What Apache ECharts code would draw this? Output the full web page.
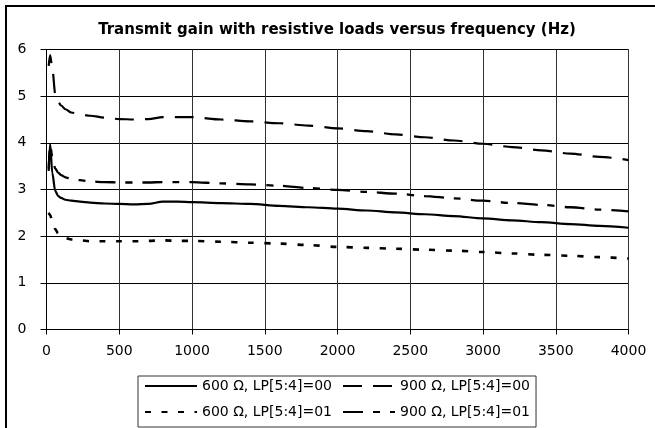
<!DOCTYPE html>
<html>
<head>
<meta charset="utf-8">
<script src="https://cdn.jsdelivr.net/npm/echarts@6/dist/echarts.min.js"></script>
<style>html,body{margin:0;padding:0;background:#fff}#chart{width:655px;height:428px}</style>
</head>
<body>
<div id="chart"></div>
<script>
const titleText = 'Transmit gain with resistive loads versus frequency (Hz)';
const seriesNames = ['600 Ω, LP[5:4]=00', '900 Ω, LP[5:4]=00', '600 Ω, LP[5:4]=01', '900 Ω, LP[5:4]=01'];
const frequencies = [15, 25, 40, 60, 80, 100, 130, 170, 230, 300, 400, 500, 600, 700, 800, 900, 1000, 1200, 1400, 1600, 1800, 2000, 2200, 2400, 2600, 2800, 3000, 3200, 3400, 3600, 3800, 4000];
const gain600_00 = [3.45, 3.98, 3.35, 2.97, 2.86, 2.82, 2.78, 2.76, 2.74, 2.72, 2.70, 2.69, 2.68, 2.69, 2.74, 2.74, 2.73, 2.71, 2.69, 2.65, 2.62, 2.59, 2.55, 2.51, 2.47, 2.43, 2.38, 2.34, 2.30, 2.26, 2.22, 2.18];
const gain900_00 = [5.65, 5.88, 5.6, 5.05, 4.88, 4.80, 4.72, 4.65, 4.61, 4.58, 4.54, 4.51, 4.50, 4.51, 4.55, 4.55, 4.55, 4.50, 4.46, 4.42, 4.37, 4.31, 4.25, 4.18, 4.12, 4.05, 3.98, 3.91, 3.84, 3.77, 3.70, 3.63];
const gain600_01 = [2.50, 2.45, 2.32, 2.15, 2.06, 2.00, 1.96, 1.93, 1.91, 1.89, 1.89, 1.89, 1.89, 1.90, 1.91, 1.90, 1.90, 1.88, 1.86, 1.84, 1.81, 1.77, 1.75, 1.73, 1.71, 1.69, 1.66, 1.63, 1.60, 1.58, 1.55, 1.52];
const gain900_01 = [3.40, 3.95, 3.70, 3.45, 3.36, 3.31, 3.26, 3.22, 3.20, 3.17, 3.16, 3.15, 3.15, 3.15, 3.16, 3.16, 3.16, 3.13, 3.11, 3.08, 3.03, 2.99, 2.95, 2.91, 2.86, 2.81, 2.76, 2.71, 2.67, 2.62, 2.57, 2.53];
const xTicks = {min: 0, max: 4000, interval: 500};
const yTicks = {min: 0, max: 6, interval: 1};

const allValues = [gain600_00, gain900_00, gain600_01, gain900_01];
const dashStyles = ['solid', [19, 11], [6, 10.5], [20, 10, 7, 10]];
const widths = [2.2, 2.2, 2.6, 2.3];

const chart = echarts.init(document.getElementById('chart'), null, {renderer: 'canvas'});
const font = 'DejaVu Sans';
chart.setOption({
  animation: false,
  backgroundColor: '#fff',
  title: {
    text: titleText,
    left: 332,
    top: 18,
    textAlign: 'center',
    textStyle: {fontFamily: font, fontSize: 15, fontWeight: 'bold', color: '#000'}
  },
  graphic: [{
    type: 'rect', silent: true, z: 100,
    shape: {x: 6, y: 6, width: 700, height: 500},
    style: {fill: null, stroke: '#000', lineWidth: 2}
  }],
  legend: {
    left: 138, top: 376, width: 400,
    padding: [2, 6, 7, 6],
    itemWidth: 52, itemHeight: 16, itemGap: 10,
    borderColor: '#333', borderWidth: 1,
    data: seriesNames,
    itemStyle: {color: 'rgba(0,0,0,0)', borderColor: 'rgba(0,0,0,0)', borderWidth: 0},
    textStyle: {fontFamily: font, fontSize: 14, color: '#000', lineHeight: 16}
  },
  grid: {left: 46.5, right: 26.5, top: 49.5, bottom: 98.5, show: true, borderColor: '#808080', borderWidth: 1},
  xAxis: {
    type: 'value', min: xTicks.min, max: xTicks.max, interval: xTicks.interval,
    axisLine: {lineStyle: {color: '#000', width: 1}},
    axisTick: {show: true, length: 5, lineStyle: {color: '#000'}},
    axisLabel: {margin: 15, fontFamily: font, fontSize: 14, color: '#000', formatter: v => String(v)},
    splitLine: {show: true, lineStyle: {color: '#333', width: 1}}
  },
  yAxis: {
    type: 'value', min: yTicks.min, max: yTicks.max, interval: yTicks.interval,
    axisLine: {show: true, lineStyle: {color: '#000', width: 1}},
    axisTick: {show: true, length: 6, lineStyle: {color: '#000'}},
    axisLabel: {margin: 20, fontFamily: font, fontSize: 14, color: '#000'},
    splitLine: {show: true, lineStyle: {color: '#000', width: 1}}
  },
  series: seriesNames.map((name, i) => ({
    name: name,
    type: 'line',
    data: frequencies.map((f, j) => [f, allValues[i][j]]),
    showSymbol: false,
    symbol: 'none',
    smooth: 0.3,
    smoothMonotone: 'x',
    lineStyle: {color: '#000', width: widths[i], type: dashStyles[i], cap: 'butt'},
    itemStyle: {color: '#000'}
  }))
});
</script>
</body>
</html>
